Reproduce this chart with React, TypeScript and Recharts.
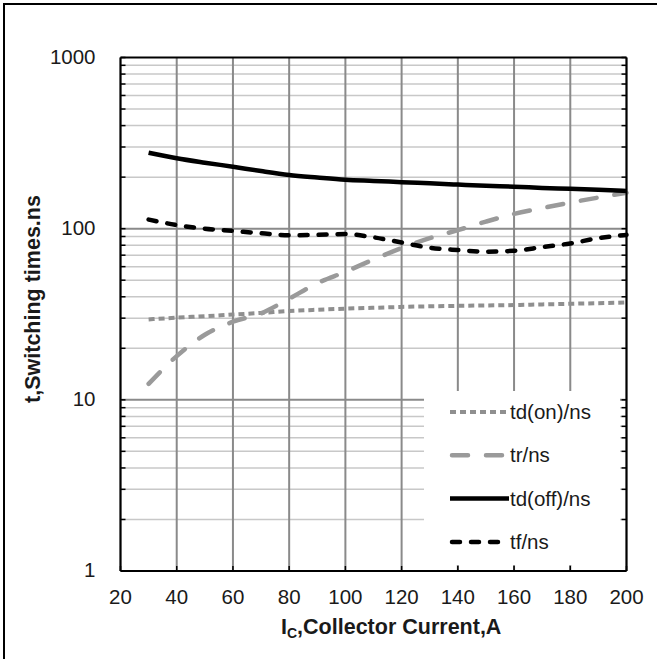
import React from 'react';
import {CartesianGrid, Legend, Line, LineChart, XAxis, YAxis} from 'recharts';

// collector current (A)
const current = [30, 40, 50, 60, 70, 80, 90, 100, 110, 120, 130, 140, 150, 160, 170, 180, 190, 200];
// switching times (ns)
const tdOn = [29.5, 30.2, 30.8, 31.5, 32.2, 33, 33.6, 34.1, 34.5, 34.9, 35.2, 35.4, 35.6, 35.8, 36.1, 36.4, 36.7, 37];
const tr = [12.4, 18, 24, 28.6, 32, 39, 48, 56, 66, 77, 88, 98, 110, 122, 132, 142, 152, 162];
const tdOff = [278, 258, 243, 230, 217, 206, 199, 193, 190, 187, 184, 181, 178, 176, 173, 171, 169, 166];
const tf = [113, 105, 100, 97, 94, 91.5, 92, 93, 89, 83, 77.4, 75, 73.4, 74.3, 78, 82, 88, 92];

const xTicks = [20, 40, 60, 80, 100, 120, 140, 160, 180, 200];
const yTicks = [1, 2, 3, 4, 5, 6, 7, 8, 9, 10, 20, 30, 40, 50, 60, 70, 80, 90, 100, 200, 300, 400, 500, 600, 700, 800, 900, 1000];
const yLabels = [1, 10, 100, 1000];
const yMajor = [10, 100];
const yMinor = yTicks.filter((v) => !yLabels.includes(v));

const data = current.map((ic, i) => ({ic, tdOn: tdOn[i], tr: tr[i], tdOff: tdOff[i], tf: tf[i]}));

const series = [
    {key: 'tdOn', name: 'td(on)/ns', color: '#8f8f8f', width: 4, dash: '6 4', cap: 'butt'},
    {key: 'tr', name: 'tr/ns', color: '#9a9a9a', width: 4.5, dash: '16 18', cap: 'round'},
    {key: 'tdOff', name: 'td(off)/ns', color: '#000000', width: 4.5, dash: undefined, cap: 'butt'},
    {key: 'tf', name: 'tf/ns', color: '#000000', width: 4.5, dash: '8 11', cap: 'round'},
];

const textColor = '#1a1a1a';
const tickFont = 20.5;
const titleFont = 21.5;

const LeftTick = (props: any) => {
    const {x, y, payload} = props;
    return (
        <g>
            <line x1={x} x2={x + 5} y1={y} y2={y} stroke="#000" strokeWidth={1.5}/>
            {yLabels.includes(payload.value) && (
                <text x={x - 25} y={y + 6} textAnchor="end" fontSize={tickFont} fill={textColor}>
                    {payload.value}
                </text>
            )}
        </g>
    );
};

const RightTick = (props: any) => {
    const {x, y} = props;
    return <line x1={x - 5} x2={x} y1={y} y2={y} stroke="#000" strokeWidth={1.5}/>;
};

const BottomTick = (props: any) => {
    const {x, y, payload} = props;
    return (
        <g>
            <line x1={x} x2={x} y1={y} y2={y - 5} stroke="#000" strokeWidth={1.5}/>
            <text x={x} y={y + 32.5} textAnchor="middle" fontSize={tickFont} fill={textColor}>
                {payload.value}
            </text>
        </g>
    );
};

const XTitle = () => (
    <text x={281} y={633.5} fontSize={titleFont} fontWeight="bold" fill={textColor}>
        I<tspan fontSize={14} dy={4}>C</tspan>
        <tspan dy={-4} fontSize={titleFont}>,Collector Current,A</tspan>
    </text>
);

const YTitle = () => (
    <text transform="translate(39.5, 299) rotate(-90)" textAnchor="middle" fontSize={titleFont}
          fontWeight="bold" fill={textColor}>
        t,Switching times.ns
    </text>
);

const LegendBox = () => (
    <div style={{width: 196, height: 174, background: '#fff'}}>
        <svg width={196} height={174}>
            {series.map((s, i) => {
                const cy = 21 + i * 43.3;
                return (
                    <g key={s.key}>
                        <line x1={s.cap === 'round' ? 28 : 26} x2={s.cap === 'round' ? 83 : 85} y1={cy} y2={cy}
                              stroke={s.color} strokeWidth={s.width} strokeDasharray={s.dash}
                              strokeLinecap={s.cap as any}/>
                        <text x={86} y={cy + 7} fontSize={tickFont} fill={textColor}>{s.name}</text>
                    </g>
                );
            })}
        </svg>
    </div>
);

function App(): React.ReactElement {
    return (
        <div style={{position: 'absolute', left: 0, top: 0, width: 657, height: 659, background: '#fff',
            fontFamily: '"Liberation Sans", Arial, sans-serif', overflow: 'hidden'}}>
            <div style={{position: 'absolute', left: 3, top: 3, width: 700, height: 700,
                borderLeft: '2.5px solid #000', borderTop: '2.5px solid #000'}}/>
            <LineChart width={657} height={659} data={data}
                       margin={{top: 56.5, right: 29.5, bottom: 0, left: 0}}>
                <CartesianGrid horizontalValues={yMinor} vertical={false} stroke="#c8c8c8" strokeWidth={1.5}/>
                <CartesianGrid horizontalValues={yMajor} stroke="#8a8a8a" strokeWidth={2}/>
                <XAxis dataKey="ic" type="number" domain={[20, 200]} ticks={xTicks} interval={0}
                       tickSize={0} tickMargin={0} tick={BottomTick} height={88}
                       axisLine={{stroke: '#000', strokeWidth: 2}} label={{content: XTitle}}/>
                <XAxis xAxisId="top" orientation="top" type="number" domain={[20, 200]} ticks={xTicks}
                       tick={false} tickLine={false} height={1} axisLine={{stroke: '#000', strokeWidth: 2}}/>
                <YAxis type="number" scale="log" domain={[1, 1000]} ticks={yTicks} interval={0}
                       allowDataOverflow tickSize={0} tickMargin={0} tick={LeftTick} width={120.5}
                       axisLine={{stroke: '#000', strokeWidth: 2}} label={{content: YTitle}}/>
                <YAxis yAxisId="right" orientation="right" type="number" scale="log" domain={[1, 1000]}
                       ticks={yTicks} interval={0} allowDataOverflow tickSize={0} tickMargin={0}
                       tick={RightTick} width={1} axisLine={{stroke: '#000', strokeWidth: 2}}/>
                <Legend layout="horizontal" verticalAlign="middle" align="center" content={LegendBox}
                        wrapperStyle={{left: 424, top: 391, width: 196, height: 174}}/>
                {series.map((s) => (
                    <Line key={s.key} dataKey={s.key} name={s.name} type="monotone" stroke={s.color}
                          strokeWidth={s.width} strokeDasharray={s.dash} strokeLinecap={s.cap as any}
                          dot={false} activeDot={false} isAnimationActive={false}/>
                ))}
            </LineChart>
        </div>
    );
}

export default App;
